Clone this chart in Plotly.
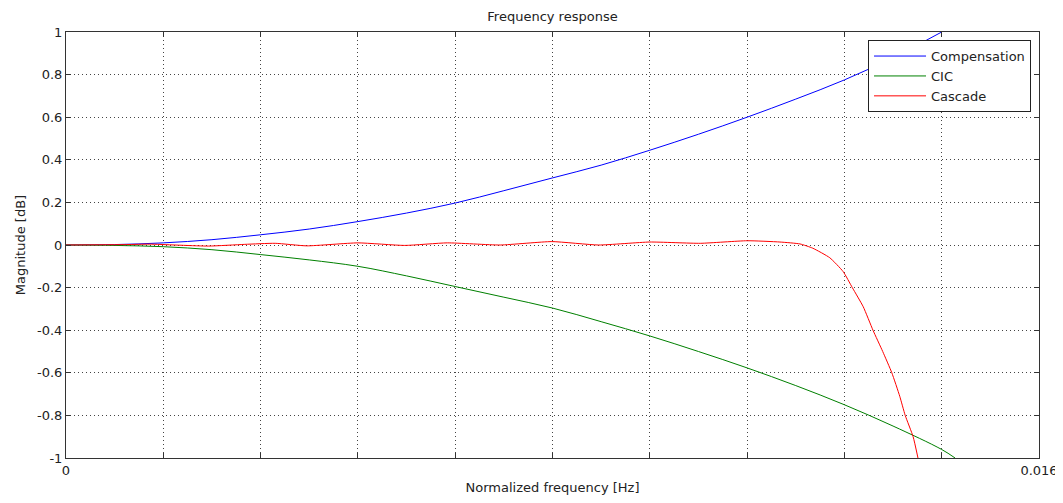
import plotly.graph_objects as go

# Frequency samples [Hz] (normalized)
freq_main = [0.0, 0.0008, 0.0016, 0.0024, 0.0032, 0.0040, 0.0048, 0.0056, 0.0064,
             0.0072, 0.0080, 0.0088, 0.0096, 0.0104, 0.0112, 0.0120, 0.0128,
             0.0136, 0.0144]
compensation = [0.0, 0.002, 0.010, 0.025, 0.048, 0.075, 0.110, 0.150, 0.197,
                 0.255, 0.315, 0.375, 0.445, 0.520, 0.600, 0.685, 0.775,
                 0.880, 1.000]

freq_cic = [0.0, 0.0008, 0.0016, 0.0024, 0.0032, 0.0040, 0.0048, 0.0056, 0.0064,
            0.0072, 0.0080, 0.0088, 0.0096, 0.0104, 0.0112, 0.0120, 0.0128,
            0.0136, 0.0144, 0.01462]
cic = [0.0, -0.002, -0.008, -0.022, -0.045, -0.070, -0.100, -0.145, -0.195,
       -0.245, -0.296, -0.360, -0.427, -0.500, -0.577, -0.660, -0.750,
       -0.850, -0.960, -1.000]

freq_cascade = [0.0, 0.00100, 0.00138, 0.00234, 0.00294, 0.00344, 0.00396, 0.00480,
                0.00557, 0.00627, 0.00714, 0.00799, 0.00876, 0.00960, 0.01043,
                0.01120, 0.01174, 0.01207, 0.01228, 0.01256, 0.01278, 0.01293,
                0.01311, 0.01327, 0.01343, 0.01358, 0.01371, 0.01380, 0.01393,
                0.01401]
cascade = [0.0, 0.002, 0.004, -0.005, 0.003, 0.008, -0.004, 0.010,
           -0.002, 0.010, 0.000, 0.016, 0.000, 0.014, 0.008,
           0.020, 0.014, 0.005, -0.015, -0.060, -0.125, -0.200,
           -0.290, -0.400, -0.500, -0.600, -0.710, -0.800, -0.900,
           -1.000]

x_tickvals = [0.0, 0.0016, 0.0032, 0.0048, 0.0064, 0.0080, 0.0096, 0.0112, 0.0128, 0.0144, 0.016]
x_ticktext = ["0", "", "", "", "", "", "", "", "", "", "0.016"]
y_tickvals = [-1, -0.8, -0.6, -0.4, -0.2, 0, 0.2, 0.4, 0.6, 0.8, 1]
y_ticktext = ["-1", "-0.8", "-0.6", "-0.4", "-0.2", "0", "0.2", "0.4", "0.6", "0.8", "1"]

FONT = "DejaVu Sans, Liberation Sans, Arial, sans-serif"
TXT = "#222222"

# The page body has an 8px default margin; figure is sized/positioned to compensate.
W, H = 1055, 495
L, T = 58, 24          # plot area left/top inside the figure
PR, PB = 1031, 450     # plot area right/bottom inside the figure

fig = go.Figure()
fig.add_trace(go.Scatter(x=freq_main, y=compensation, mode="lines", name="Compensation",
                         line=dict(color="#0000FF", width=1, shape="spline")))
fig.add_trace(go.Scatter(x=freq_cic, y=cic, mode="lines", name="CIC",
                         line=dict(color="#008000", width=1, shape="spline")))
fig.add_trace(go.Scatter(x=freq_cascade, y=cascade, mode="lines", name="Cascade",
                         line=dict(color="#FF0000", width=1, shape="spline", smoothing=0.5)))

axis_common = dict(
    showline=True, linecolor="#333333", linewidth=1, mirror="ticks",
    ticks="inside", ticklen=5, tickcolor="#333333",
    showgrid=True, gridcolor="#444444", griddash="1px,3px", gridwidth=1,
    zeroline=False, tickfont=dict(family=FONT, size=13, color=TXT),
    automargin=False,
)

fig.update_xaxes(range=[0, 0.016], tickmode="array", tickvals=x_tickvals, ticktext=x_ticktext,
                 title=dict(text="Normalized frequency [Hz]", font=dict(family=FONT, size=13, color=TXT),
                            standoff=6),
                 **axis_common)
fig.update_yaxes(range=[-1, 1], tickmode="array", tickvals=y_tickvals, ticktext=y_ticktext,
                 title=dict(text="Magnitude [dB]", font=dict(family=FONT, size=13, color=TXT),
                            standoff=8),
                 **axis_common)

fig.update_layout(
    width=W, height=H,
    margin=dict(l=L, r=W - PR, t=T, b=H - PB, autoexpand=False),
    paper_bgcolor="white", plot_bgcolor="white",
    title=dict(text="Frequency response", x=(L + PR) / 2 / W, xanchor="center",
               y=1 - 8 / H, yanchor="middle",
               font=dict(family=FONT, size=13, color=TXT)),
    font=dict(family=FONT, size=13, color=TXT),
    showlegend=True,
    legend=dict(x=0.9918, y=0.981, xanchor="right", yanchor="top",
                bgcolor="white", bordercolor="#222222", borderwidth=1,
                font=dict(family=FONT, size=13, color=TXT),
                itemwidth=52, tracegroupgap=0),
)

fig.write_html("out.html")
